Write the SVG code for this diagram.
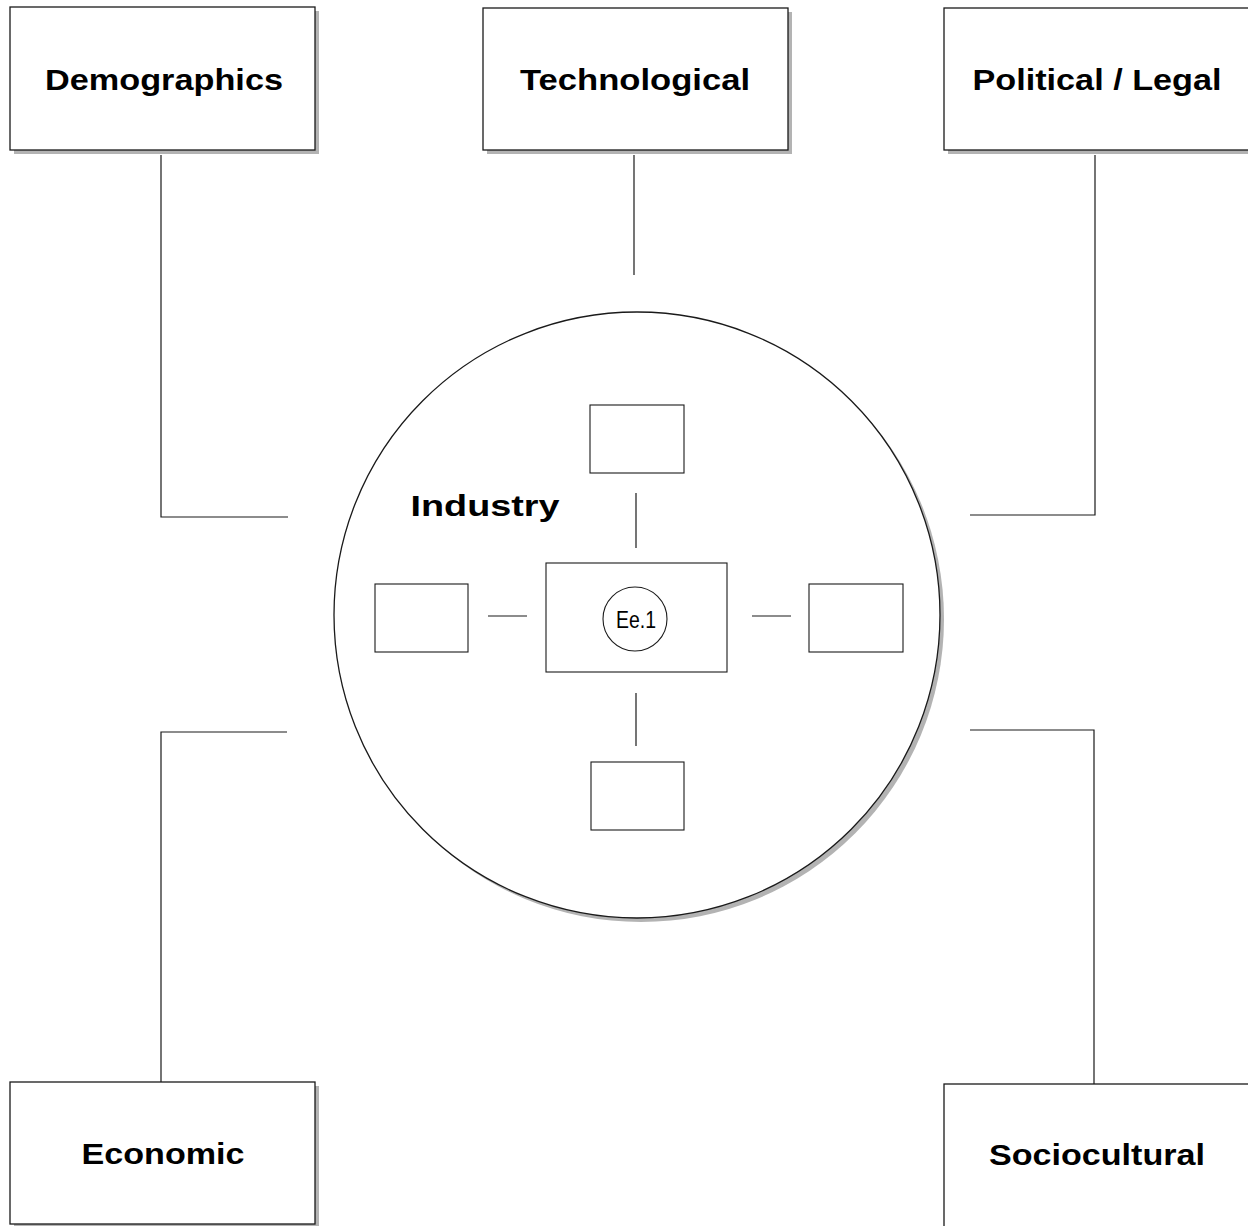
<svg xmlns="http://www.w3.org/2000/svg" width="1248" height="1226" viewBox="0 0 1248 1226">
<style>
.box{fill:#fff;stroke:#1a1a1a;stroke-width:1.3}
.shadow{fill:#b3b3b3;stroke:none}
.ibox{fill:#fff;stroke:#1a1a1a;stroke-width:1.1}
.conn{fill:none;stroke:#1a1a1a;stroke-width:1.2}
.lbl{font-family:"Liberation Sans",Arial,sans-serif;font-weight:bold;font-size:30px;fill:#000}
.small{font-family:"Liberation Sans",Arial,sans-serif;font-size:23px;fill:#000}
</style>
<rect width="1248" height="1226" fill="#fff"/>
<g id="demographics">
<rect class="shadow" x="14" y="11" width="305" height="143"/>
<rect class="box" x="10" y="7" width="305" height="143"/>
<text class="lbl" x="164" y="90" text-anchor="middle" textLength="238" lengthAdjust="spacingAndGlyphs">Demographics</text>
</g>
<g id="technological">
<rect class="shadow" x="487" y="12" width="305" height="142"/>
<rect class="box" x="483" y="8" width="305" height="142"/>
<text class="lbl" x="635" y="90" text-anchor="middle" textLength="230" lengthAdjust="spacingAndGlyphs">Technological</text>
</g>
<g id="political-legal">
<rect class="shadow" x="948" y="12" width="305" height="142"/>
<rect class="box" x="944" y="8" width="310" height="142"/>
<text class="lbl" x="1097" y="90" text-anchor="middle" textLength="249" lengthAdjust="spacingAndGlyphs">Political / Legal</text>
</g>
<g id="economic">
<rect class="shadow" x="14" y="1086" width="305" height="142"/>
<rect class="box" x="10" y="1082" width="305" height="142"/>
<text class="lbl" x="163" y="1164" text-anchor="middle" textLength="163" lengthAdjust="spacingAndGlyphs">Economic</text>
</g>
<g id="sociocultural">
<rect class="shadow" x="948" y="1088" width="305" height="150"/>
<rect class="box" x="944" y="1084" width="310" height="150"/>
<text class="lbl" x="1097" y="1165" text-anchor="middle" textLength="216" lengthAdjust="spacingAndGlyphs">Sociocultural</text>
</g>
<g id="industry">
<circle class="shadow" cx="641" cy="619" r="303"/>
<circle class="box" cx="637" cy="615" r="303"/>
<text class="lbl" x="485" y="516" text-anchor="middle" textLength="149" lengthAdjust="spacingAndGlyphs">Industry</text>
</g>
<g id="box-top"><rect class="ibox" x="590" y="405" width="94" height="68"/></g>
<g id="box-left"><rect class="ibox" x="375" y="584" width="93" height="68"/></g>
<g id="box-right"><rect class="ibox" x="809" y="584" width="94" height="68"/></g>
<g id="box-bottom"><rect class="ibox" x="591" y="762" width="93" height="68"/></g>
<g id="center">
<rect class="ibox" x="546" y="563" width="181" height="109"/>
<circle class="ibox" cx="635" cy="619" r="32"/>
<text class="small" x="636" y="628" text-anchor="middle" textLength="40" lengthAdjust="spacingAndGlyphs">Ee.1</text>
</g>
<g id="connectors">
<path class="conn" d="M161 155 V517 H288"/>
<path class="conn" d="M634 155 V275"/>
<path class="conn" d="M1095 155 V515 H970"/>
<path class="conn" d="M161 1082 V732 H287"/>
<path class="conn" d="M1094 1084 V730 H970"/>
<path class="conn" d="M636 493 V548"/>
<path class="conn" d="M636 693 V746"/>
<path class="conn" d="M488 616 H527"/>
<path class="conn" d="M752 616 H791"/>
</g>
</svg>
